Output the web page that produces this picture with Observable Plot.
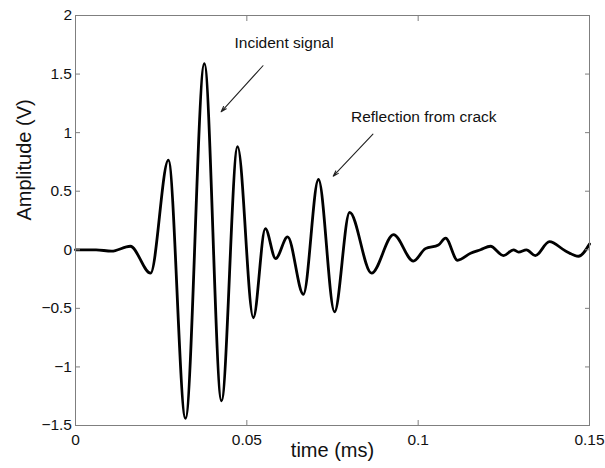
<!DOCTYPE html>
<html>
<head>
<meta charset="utf-8">
<script src="https://cdn.jsdelivr.net/npm/d3@7"></script>
<script src="https://cdn.jsdelivr.net/npm/@observablehq/plot@0.6"></script>
<style>
  body { margin: 0; background: #fff; }
  svg { display: block; }
</style>
</head>
<body>
<div id="chart"></div>
<script>
// Received ultrasonic signal: turning points of the trace (time in ms, amplitude in V)
const timeMs = [
  0, 0.006, 0.0105, 0.016, 0.0219, 0.0271, 0.0321, 0.0376, 0.0426, 0.0473,
  0.0519, 0.0554, 0.0584, 0.0619, 0.0665, 0.0709, 0.0756, 0.0800, 0.0864, 0.0928,
  0.0986, 0.1021, 0.1059, 0.1080, 0.1115, 0.1153, 0.1182, 0.1211, 0.1249, 0.1278,
  0.1293, 0.1316, 0.1342, 0.1383, 0.1430, 0.1468, 0.1500
];
const amplitudeV = [
  0, 0, -0.012, 0.03, -0.2, 0.765, -1.44, 1.59, -1.29, 0.88,
  -0.58, 0.18, -0.075, 0.11, -0.38, 0.60, -0.53, 0.32, -0.2, 0.13,
  -0.096, 0.01, 0.04, 0.10, -0.09, -0.03, 0.0, 0.03, -0.05, 0.0,
  -0.02, 0.0, -0.05, 0.07, -0.01, -0.055, 0.05
];

const xTicks = [0, 0.05, 0.1, 0.15];
const yTicks = [-1.5, -1, -0.5, 0, 0.5, 1, 1.5, 2];

// Annotations with their pointer arrows
const noteText = ["Incident signal", "Reflection from crack"];
const noteX = [0.0464, 0.0804];
const noteY = [1.762, 1.135];
const arrowFromX = [0.0547, 0.0868];
const arrowFromY = [1.571, 0.987];
const arrowToX = [0.0425, 0.0752];
const arrowToY = [1.178, 0.628];

const signal = timeMs.map((t, i) => ({t, v: amplitudeV[i]}));
const notes = noteText.map((text, i) => ({
  text, x: noteX[i], y: noteY[i],
  x1: arrowFromX[i], y1: arrowFromY[i], x2: arrowToX[i], y2: arrowToY[i]
}));

const fmt = d3.format("");
const axisGray = "#7f7f7f";
const ink = "#111";
const blank = () => "";

const chart = Plot.plot({
  width: 605,
  height: 468,
  marginLeft: 75,
  marginRight: 16,
  marginTop: 15,
  marginBottom: 43,
  style: {fontFamily: "'Liberation Sans', Arial, Helvetica, sans-serif", background: "#fff", color: "#000"},
  x: {domain: [0, 0.15]},
  y: {domain: [-1.5, 2]},
  marks: [
    Plot.line(signal, {x: "t", y: "v", curve: "monotone-x", stroke: "#000", strokeWidth: 2.8}),
    Plot.frame({stroke: axisGray}),
    Plot.axisX({ticks: xTicks, anchor: "bottom", tickSize: -5, tickPadding: 13, tickFormat: fmt,
      fontSize: 15.5, stroke: axisGray, fill: ink, label: null}),
    Plot.axisX({ticks: xTicks, anchor: "top", tickSize: -5, tickFormat: blank, stroke: axisGray, label: null}),
    Plot.axisY({ticks: yTicks, anchor: "left", tickSize: -5, tickPadding: 8.5, tickFormat: fmt,
      fontSize: 15.5, stroke: axisGray, fill: ink, label: null}),
    Plot.axisY({ticks: yTicks, anchor: "right", tickSize: -5, tickFormat: blank, stroke: axisGray, label: null}),
    Plot.arrow(notes, {x1: "x1", y1: "y1", x2: "x2", y2: "y2", stroke: "#222", strokeWidth: 1.1,
      headLength: 8, headAngle: 35}),
    Plot.text(notes, {x: "x", y: "y", text: "text", textAnchor: "start", fontSize: 15.5, fill: ink}),
    Plot.text(["time (ms)"], {text: d => d, frameAnchor: "bottom", dy: 31.6, fontSize: 20, fill: ink}),
    Plot.text(["Amplitude (V)"], {text: d => d, frameAnchor: "left", dx: -51.4, rotate: -90, fontSize: 20, fill: ink})
  ]
});

document.getElementById("chart").append(chart);
</script>
</body>
</html>
